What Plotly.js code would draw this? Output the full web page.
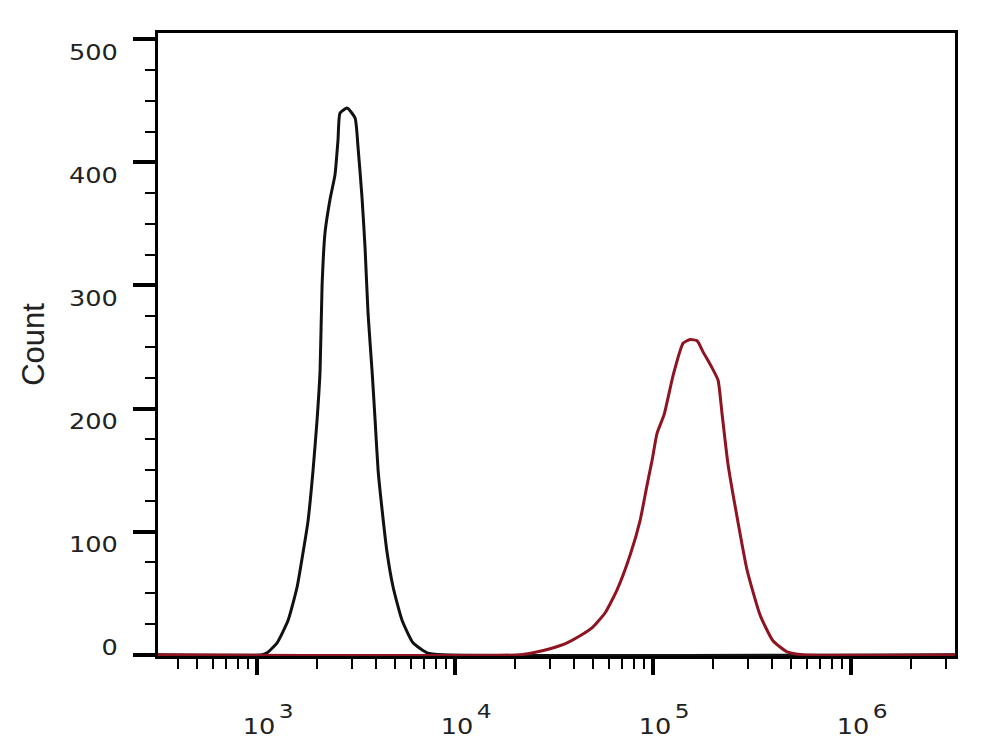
<!DOCTYPE html>
<html>
<head>
<meta charset="utf-8">
<script src="https://cdn.plot.ly/plotly-3.0.1.min.js"></script>
<style>html,body{margin:0;padding:0;background:#fff;}#chart{width:996px;height:755px;}</style>
</head>
<body>
<div id="chart"></div>
<script>
// Black histogram (control)
const blackX = [316, 1060, 1124, 1262, 1435, 1593, 1707, 1810, 1918, 2010, 2081, 2130, 2205, 2337, 2476, 2563, 2625, 2850, 3126, 3237, 3390, 3510, 3636, 3808, 3945, 4086, 4279, 4536, 4864, 5399, 6134, 7220, 8690, 3350000];
const blackY = [0, 0, 1.6, 9.7, 28, 55, 83, 109, 150, 191, 231, 300, 343, 370, 390, 418, 440, 444, 436, 412, 371, 331, 277, 231, 191, 150, 118, 83, 55, 28, 9.7, 1.6, 0, 0];
// Red histogram (stained)
const redX = [316, 21300, 24770, 30200, 36800, 42800, 49800, 57300, 65800, 76600, 86000, 93300, 98900, 104800, 113700, 126300, 141800, 153800, 166900, 178900, 198700, 213000, 223000, 239000, 265600, 298300, 346900, 403200, 474900, 572600, 3350000];
const redY = [0, 0, 1.6, 4.9, 9.7, 15.4, 22.7, 34.1, 52.7, 81, 109, 138, 158, 180, 195, 227, 253, 256, 255, 246, 233, 223, 196, 155, 112, 69, 32.4, 11.4, 2.4, 0, 0];

const xMajorTicks = [1000, 10000, 100000, 1000000];
const xBaseText = ['10', '10', '10', '10'];
const xExponents = ['3', '4', '5', '6'];
const xMinorTicks = [400, 500, 600, 700, 800, 900, 2000, 3000, 4000, 5000, 6000, 7000, 8000, 9000,
  20000, 30000, 40000, 50000, 60000, 70000, 80000, 90000,
  200000, 300000, 400000, 500000, 600000, 700000, 800000, 900000, 2000000, 3000000];
const yTicks = [0, 100, 200, 300, 400, 500];

const tickFont = {family: 'DejaVu Sans', size: 21, color: '#222'};

const traces = [
  {x: blackX, y: blackY, type: 'scatter', mode: 'lines',
   line: {color: '#111111', width: 3, shape: 'spline', smoothing: 0.5}, hoverinfo: 'skip'},
  {x: redX, y: redY, type: 'scatter', mode: 'lines',
   line: {color: '#8e1422', width: 3, shape: 'spline', smoothing: 0.5}, hoverinfo: 'skip'}
];

const annotations = xMajorTicks.map((v, i) => ({
  x: Math.log10(v), xref: 'x', y: 0, yref: 'paper',
  text: xExponents[i], showarrow: false,
  xanchor: 'center', yanchor: 'middle', xshift: 29, yshift: -55,
  font: {family: 'DejaVu Sans', size: 19, color: '#222'}
}));

const layout = {
  width: 996, height: 755,
  margin: {l: 158, r: 41, t: 33, b: 99},
  paper_bgcolor: '#ffffff', plot_bgcolor: '#ffffff',
  showlegend: false,
  annotations: annotations,
  xaxis: {
    type: 'log', range: [Math.log10(316), Math.log10(3350000)],
    showgrid: false, zeroline: false,
    showline: true, linecolor: '#000', linewidth: 3, mirror: true,
    tickmode: 'array', tickvals: xMajorTicks, ticktext: xBaseText,
    ticks: 'outside', ticklen: 16, tickwidth: 4, tickcolor: '#000',
    ticklabelstandoff: 34, ticklabelshift: 2,
    tickfont: tickFont,
    minor: {tickmode: 'array', tickvals: xMinorTicks, ticks: 'outside', ticklen: 10, tickwidth: 2, tickcolor: '#000', showgrid: false}
  },
  yaxis: {
    range: [-1, 505],
    showgrid: false, zeroline: false,
    showline: true, linecolor: '#000', linewidth: 3, mirror: true,
    tickmode: 'array', tickvals: yTicks,
    ticks: 'outside', ticklen: 22, tickwidth: 4, tickcolor: '#000',
    ticklabelstandoff: 11, ticklabelshift: 13,
    tickfont: tickFont,
    minor: {dtick: 25, ticks: 'outside', ticklen: 10, tickwidth: 2, tickcolor: '#000', showgrid: false},
    title: {text: 'Count', font: {family: 'Liberation Sans Narrow, Liberation Sans', size: 31, color: '#222'}, standoff: 24}
  }
};

Plotly.newPlot('chart', traces, layout, {staticPlot: true, displayModeBar: false}).then(function (gd) {
  // widen the digits a little, like the reference's extended type
  gd.querySelectorAll('.ytick text, .xtick text, .annotation-text').forEach(function (t) {
    const w = t.getComputedTextLength();
    t.setAttribute('textLength', (w * 1.22).toFixed(1));
    t.setAttribute('lengthAdjust', 'spacingAndGlyphs');
  });
  // the "0" label sits above its tick in the reference
  gd.querySelectorAll('.ytick text').forEach(function (t) {
    if (t.textContent.trim() === '0') {
      const y = parseFloat(t.getAttribute('y')) || 0;
      t.setAttribute('y', (y - 20).toFixed(1));
    }
  });
});
</script>
</body>
</html>
